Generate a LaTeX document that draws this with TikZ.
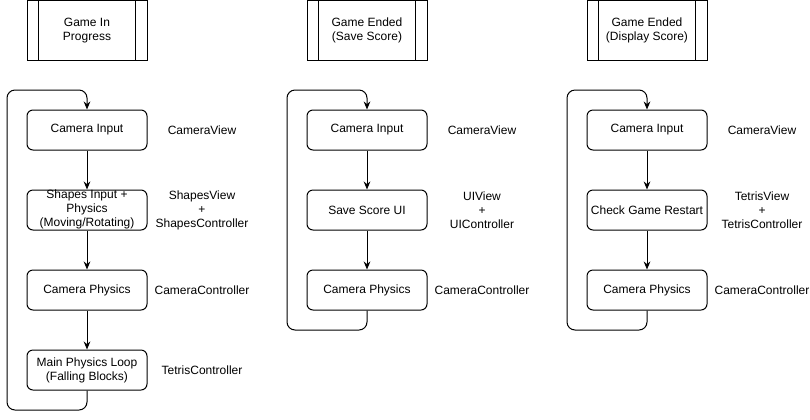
\documentclass[tikz,border=0pt]{standalone}
\usepackage{fontspec}
\setmainfont{Liberation Sans}
\usetikzlibrary{arrows.meta}
\begin{document}
\begin{tikzpicture}[x=0.75pt,y=-0.75pt,
  every node/.style={font=\fontsize{9}{10.5}\selectfont, align=center},
  proc/.style={draw, rounded corners=4.5pt, minimum width=90pt, minimum height=30pt, inner sep=0pt, line width=0.75pt},
  state/.style={draw, minimum width=90pt, minimum height=45pt, inner sep=0pt, line width=0.75pt},
  lbl/.style={inner sep=0pt},
  conn/.style={line width=0.75pt, -{Stealth[length=6pt,width=5pt]}},
  loopline/.style={line width=0.75pt, rounded corners=6pt, -{Stealth[length=6pt,width=5pt]}}
]
\useasboundingbox (0,0) rectangle (810,419);
% state boxes
\foreach \cx/\nm/\txt in {87/s1/{Game In\\Progress}, 367/s2/{Game Ended\\(Save Score)}, 647/s3/{Game Ended\\(Display Score)}}{
  \node[state] (\nm) at (\cx,30.5) {\txt};
  \draw[line width=0.75pt] ([xshift=9pt]\nm.north west) -- ([xshift=9pt]\nm.south west);
  \draw[line width=0.75pt] ([xshift=-9pt]\nm.north east) -- ([xshift=-9pt]\nm.south east);
}
% column 1
\node[proc] (a1) at (87,130) {Camera Input};
\node[proc] (a2) at (87,210) {};
\node[lbl] (a2t) at (87,209) {Shapes Input +\\Physics\\(Moving/Rotating)};
\node[proc] (a3) at (87,290) {Camera Physics};
\node[proc] (a4) at (87,370) {Main Physics Loop\\(Falling Blocks)};
\node[lbl] (l11) at (202,130) {CameraView};
\node[lbl] (l12) at (202,210) {ShapesView\\+\\ShapesController};
\node[lbl] (l13) at (202,290) {CameraController};
\node[lbl] (l14) at (202,370) {TetrisController};
\draw[conn] (a1) -- (a2);
\draw[conn] (a2) -- (a3);
\draw[conn] (a3) -- (a4);
\draw[loopline] (a4.south) -- (87,410) -- (7,410) -- (7,90) -- (87,90) -- (a1.north);
% column 2
\node[proc] (b1) at (367,130) {Camera Input};
\node[proc] (b2) at (367,210) {Save Score UI};
\node[proc] (b3) at (367,290) {Camera Physics};
\node[lbl] (l21) at (482,130) {CameraView};
\node[lbl] (l22) at (482,210) {UIView\\+\\UIController};
\node[lbl] (l23) at (482,290) {CameraController};
\draw[conn] (b1) -- (b2);
\draw[conn] (b2) -- (b3);
\draw[loopline] (b3.south) -- (367,330) -- (287,330) -- (287,90) -- (367,90) -- (b1.north);
% column 3
\node[proc] (c1) at (647,130) {Camera Input};
\node[proc] (c2) at (647,210) {Check Game Restart};
\node[proc] (c3) at (647,290) {Camera Physics};
\node[lbl] (l31) at (762,130) {CameraView};
\node[lbl] (l32) at (762,210) {TetrisView\\+\\TetrisController};
\node[lbl] (l33) at (762,290) {CameraController};
\draw[conn] (c1) -- (c2);
\draw[conn] (c2) -- (c3);
\draw[loopline] (c3.south) -- (647,330) -- (567,330) -- (567,90) -- (647,90) -- (c1.north);
\end{tikzpicture}
\end{document}
